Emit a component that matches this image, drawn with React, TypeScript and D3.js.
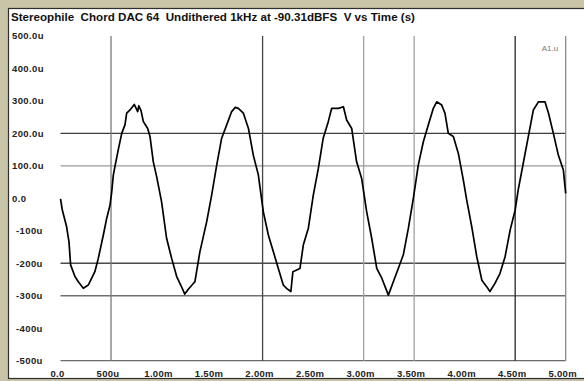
import React from "react";
import * as d3 from "d3";

// Undithered 1kHz tone at -90.31dBFS, output voltage over 5ms
const timeMs = [
  0.0, 0.018, 0.06, 0.084, 0.1, 0.143, 0.176, 0.226, 0.275, 0.34, 0.374, 0.424,
  0.457, 0.49, 0.507, 0.523, 0.54, 0.572, 0.606, 0.638, 0.655, 0.688, 0.73,
  0.764, 0.775, 0.797, 0.82, 0.863, 0.886, 0.918, 0.952, 1.0, 1.05, 1.1, 1.15,
  1.19, 1.23, 1.265, 1.33, 1.38, 1.447, 1.496, 1.546, 1.595, 1.645, 1.694,
  1.73, 1.76, 1.81, 1.86, 1.908, 1.958, 2.007, 2.057, 2.106, 2.156, 2.205,
  2.24, 2.28, 2.3, 2.37, 2.403, 2.453, 2.502, 2.552, 2.6, 2.65, 2.684, 2.75,
  2.8, 2.832, 2.882, 2.93, 2.98, 3.03, 3.08, 3.13, 3.18, 3.245, 3.294, 3.343,
  3.393, 3.443, 3.492, 3.541, 3.591, 3.64, 3.69, 3.723, 3.773, 3.805, 3.838,
  3.888, 3.937, 3.987, 4.02, 4.07, 4.12, 4.17, 4.218, 4.25, 4.3, 4.35, 4.4,
  4.45, 4.5, 4.53, 4.58, 4.63, 4.68, 4.73, 4.795, 4.83, 4.878, 4.927, 4.977,
  5.0,
];
const voltsMicro = [
  -2, -36, -87, -134, -205, -241, -257, -277, -267, -226, -185, -113, -62, -21,
  20, 72, 100, 150, 200, 226, 262, 272, 289, 267, 285, 270, 236, 215, 190, 113,
  66, -10, -123, -185, -241, -267, -295, -280, -257, -164, -72, 10, 102, 185,
  226, 267, 280, 277, 262, 215, 133, 72, -41, -113, -164, -216, -267, -278,
  -287, -226, -216, -144, -92, 10, 92, 185, 236, 277, 277, 282, 241, 215, 113,
  62, -41, -123, -216, -246, -298, -257, -216, -174, -92, 0, 102, 174, 226,
  277, 297, 287, 262, 200, 190, 139, 56, -5, -87, -180, -252, -272, -287, -262,
  -231, -180, -98, -36, 26, 108, 190, 272, 297, 297, 262, 200, 133, 87, 15,
];

const yTickValues = [500, 400, 300, 200, 100, 0, -100, -200, -300, -400, -500];
const yTickLabels = [
  "500.0u", "400.0u", "300.0u", "200.0u", "100.0u", "0.0",
  "-100u", "-200u", "-300u", "-400u", "-500u",
];
const xTickValues = [0, 0.5, 1, 1.5, 2, 2.5, 3, 3.5, 4, 4.5, 5];
const xTickLabels = [
  "0.0", "500u", "1.00m", "1.50m", "2.00m", "2.50m",
  "3.00m", "3.50m", "4.00m", "4.50m", "5.00m",
];
const hGridValues = [200, 100, -200, -300, -500];
const vGridValues = [0.5, 2, 3, 3.5, 4.5, 5];

const title =
  "Stereophile  Chord DAC 64  Undithered 1kHz at -90.31dBFS  V vs Time (s)";

const W = 584;
const H = 381;

const hGridShade: Record<number, string> = {
  200: "#3c3c3c",
  100: "#9a9a9a",
  [-200]: "#4a4a4a",
  [-300]: "#707070",
  [-500]: "#6a6a6a",
};
const vGridShade: Record<number, string> = {
  0.5: "#7a7a7a",
  2: "#454545",
  3: "#a0a0a0",
  3.5: "#a0a0a0",
  4.5: "#262626",
  5: "#8a8a8a",
};

export default function App() {
  const x = d3.scaleLinear().domain([0, 5]).range([60.5, 565.7]);
  const y = d3.scaleLinear().domain([-500, 500]).range([360.7, 35.9]);

  const pts: [number, number][] = timeMs.map((t, i) => [t, voltsMicro[i]]);
  const line = d3
    .line<[number, number]>()
    .x((d) => x(d[0]))
    .y((d) => y(d[1]))
    .curve(d3.curveLinear);

  const font = "'Liberation Sans', Arial, sans-serif";

  return (
    <svg
      width={W}
      height={H}
      style={{ position: "absolute", left: 0, top: 0, display: "block" }}
    >
      <rect x={0} y={0} width={W} height={H} fill="#c8c4a8" />
      <rect
        x={8.5}
        y={8.5}
        width={W}
        height={370}
        fill="#ffffff"
        stroke="#2e2e2e"
        strokeWidth={1.2}
      />
      <text
        x={11}
        y={21}
        fontFamily={font}
        fontWeight="bold"
        fontSize={10.5}
        fill="#111"
        textLength={404}
        lengthAdjust="spacingAndGlyphs"
        style={{ whiteSpace: "pre" }}
      >
        {title}
      </text>

      {hGridValues.map((v) => (
        <line
          key={"h" + v}
          x1={x(0)}
          x2={x(5)}
          y1={y(v)}
          y2={y(v)}
          stroke={hGridShade[v]}
          strokeWidth={1.3}
        />
      ))}
      {vGridValues.map((t) => (
        <line
          key={"v" + t}
          x1={x(t)}
          x2={x(t)}
          y1={y(500)}
          y2={y(-500)}
          stroke={vGridShade[t]}
          strokeWidth={1.3}
        />
      ))}

      {yTickValues.map((v, i) => (
        <text
          key={"yl" + v}
          x={v < 0 ? 16 : 12}
          y={y(v)}
          dy="0.35em"
          fontFamily={font}
          fontWeight="bold"
          fontSize={9.5}
          letterSpacing={0.4}
          fill="#222"
        >
          {yTickLabels[i]}
        </text>
      ))}
      {xTickValues.map((t, i) => (
        <text
          key={"xl" + t}
          x={x(t) - 3}
          y={377}
          textAnchor="middle"
          fontFamily={font}
          fontWeight="bold"
          fontSize={9.5}
          letterSpacing={0.3}
          fill="#222"
        >
          {xTickLabels[i]}
        </text>
      ))}

      <text
        x={550}
        y={51}
        textAnchor="middle"
        fontFamily={font}
        fontSize={8}
        fill="#777"
      >
        A1.u
      </text>

      <path
        d={line(pts) ?? ""}
        fill="none"
        stroke="#000"
        strokeWidth={1.7}
        strokeLinejoin="round"
      />
    </svg>
  );
}
